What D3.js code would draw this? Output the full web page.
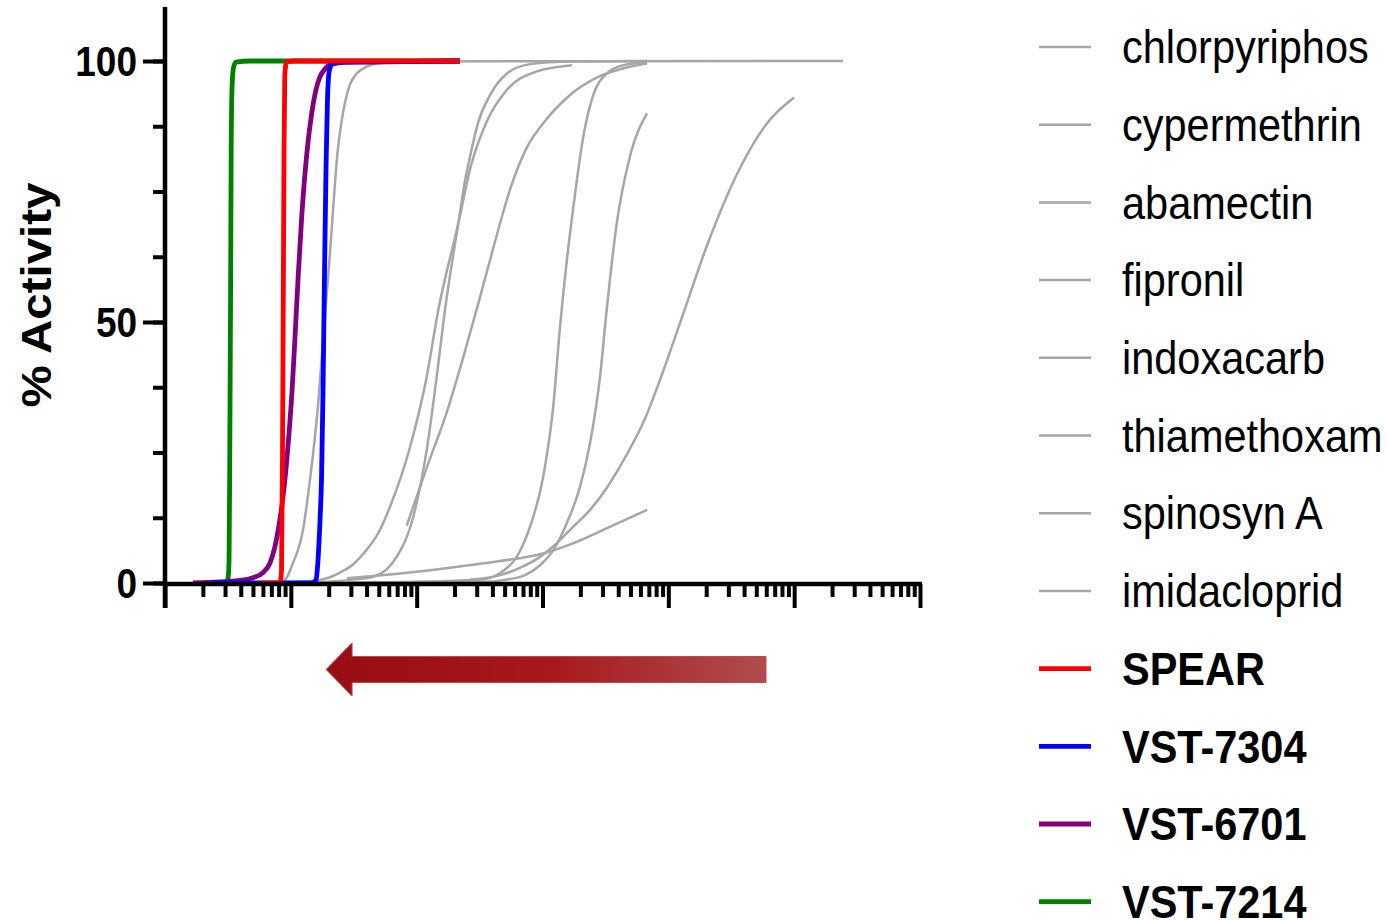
<!DOCTYPE html>
<html>
<head>
<meta charset="utf-8">
<script src="https://cdn.jsdelivr.net/npm/d3@7"></script>
<style>
  html, body { margin: 0; padding: 0; background: #fff; }
  svg { display: block; font-family: "Liberation Sans", Arial, Helvetica, sans-serif; }
</style>
</head>
<body>
<svg id="chart" width="1386" height="921"></svg>
<script>
// legend order (top to bottom)
const compoundNames = ["chlorpyriphos", "cypermethrin", "abamectin", "fipronil", "indoxacarb",
  "thiamethoxam", "spinosyn A", "imidacloprid", "SPEAR", "VST-7304", "VST-6701", "VST-7214"];

// fitted curves: [log10 concentration, % activity]
const chlorpyriphos = [[-2.762,0],[-2.166,0.1],[-2.062,0.3],[-1.983,3.8],[-1.903,10.2],[-1.848,19.7],[-1.784,34],[-1.736,49],[-1.689,63.2],[-1.657,74],[-1.631,82],[-1.596,88.5],[-1.570,92],[-1.530,95.5],[-1.477,97.6],[-1.397,98.9],[-1.318,99.5],[-1.132,99.9],[2.388,100]];
const cypermethrin = [[-1.927,0],[-1.530,0.6],[-1.345,1.2],[-1.159,5],[-1.027,12.7],[-0.920,25.5],[-0.841,39.5],[-0.775,52.3],[-0.669,68.9],[-0.616,77],[-0.564,83],[-0.513,88.1],[-0.409,93.8],[-0.282,97.6],[-0.099,99.4],[0.219,99.9],[0.831,100]];
const abamectin = [[-2.245,0],[-2.007,0.2],[-1.768,0.6],[-1.609,2],[-1.504,3.6],[-1.424,5.6],[-1.291,10.2],[-1.212,14.6],[-1.053,26],[-0.920,39.5],[-0.828,52.3],[-0.669,68.9],[-0.568,80],[-0.441,88.5],[-0.282,94.5],[-0.046,98],[0.235,99.2]];
const fipronil = [[-1.079,11],[-0.920,22.1],[-0.761,32.7],[-0.629,43.3],[-0.505,54],[-0.393,64],[-0.250,76],[-0.123,83.5],[0.020,88.5],[0.219,93.5],[0.431,96.8],[0.695,98.9],[0.831,99.5]];
const indoxacarb = [[-1.554,0],[-0.497,0.6],[-0.338,1.9],[-0.205,5],[-0.099,10.8],[0.006,20.4],[0.086,34],[0.139,49],[0.192,61.5],[0.245,72],[0.324,85.5],[0.404,93.5],[0.510,97.6],[0.642,99.2],[0.831,99.7]];
const thiamethoxam = [[-1.554,0],[-0.497,0.2],[-0.298,0.6],[-0.139,1.5],[-0.020,3.4],[0.086,6.3],[0.192,11.4],[0.298,18.4],[0.378,26.8],[0.457,39.5],[0.510,52.3],[0.590,68.9],[0.695,81.7],[0.831,90]];
const spinosynA = [[-1.554,0],[-0.815,0.2],[-0.576,0.6],[-0.338,1.5],[-0.179,2.9],[-0.020,5],[0.099,7.3],[0.245,10.8],[0.378,14],[0.513,18.3],[0.656,24],[0.815,31.5],[0.950,40],[1.117,51.5],[1.305,64.5],[1.570,79.5],[1.782,88],[1.999,93]];
const imidacloprid = [[-1.554,0.9],[-1.132,1.8],[-0.735,2.9],[-0.338,4.2],[-0.020,5.5],[0.242,7.6],[0.513,10.5],[0.831,14]];
const spear = [[-2.237,0],[-2.086,0],[-2.074,2.5],[-2.066,25.5],[-2.060,54.2],[-2.054,82.9],[-2.048,97.3],[-2.034,99.8],[-1.967,100],[-0.656,100]];
const vst7304 = [[-2.626,0],[-1.832,0],[-1.800,0.6],[-1.784,4.4],[-1.768,12.1],[-1.756,20],[-1.744,37],[-1.732,60],[-1.720,80],[-1.709,92.5],[-1.693,98.3],[-1.665,99.6],[-1.570,99.8],[-0.656,100]];
const vst6701 = [[-2.777,0],[-2.404,0.5],[-2.301,1],[-2.221,2],[-2.166,3.8],[-2.126,7],[-2.098,10.5],[-2.070,15],[-2.042,21],[-2.015,28.5],[-1.991,36.5],[-1.967,47],[-1.941,59],[-1.914,70],[-1.874,82],[-1.834,90],[-1.800,94.5],[-1.768,97],[-1.728,98.5],[-1.689,99.3],[-1.556,99.8],[-0.656,100]];
const vst7214 = [[-2.515,0],[-2.499,0.9],[-2.491,4.4],[-2.485,25.5],[-2.479,54.2],[-2.474,82.9],[-2.468,94.4],[-2.456,98.7],[-2.436,99.8],[-2.324,100],[-0.656,100]];

const yTickValues = [0, 50, 100];

const grayCurves = [chlorpyriphos, cypermethrin, abamectin, fipronil, indoxacarb, thiamethoxam, spinosynA, imidacloprid];
const colorCurves = [spear, vst7304, vst6701, vst7214];
const colorCurveColors = ["#ff0000", "#0000ff", "#800080", "#008000"];
const grayColor = "#a6a6a6";

const svg = d3.select("#chart");

const x = d3.scaleLog().domain([1e-3, 1e3]).range([165, 920]);
const y = d3.scaleLinear().domain([0, 100]).range([583, 61]);

const line = d3.line()
  .x(d => x(Math.pow(10, d[0])))
  .y(d => y(d[1]))
  .curve(d3.curveMonotoneX);

// gray reference compounds
svg.append("g")
  .selectAll("path")
  .data(grayCurves)
  .join("path")
  .attr("d", line)
  .attr("fill", "none")
  .attr("stroke", grayColor)
  .attr("stroke-width", 2.5);

// highlighted compounds, last legend entry drawn first
const order = [3, 2, 1, 0];
svg.append("g")
  .selectAll("path")
  .data(order)
  .join("path")
  .attr("d", i => line(colorCurves[i]))
  .attr("fill", "none")
  .attr("stroke", i => colorCurveColors[i])
  .attr("stroke-width", 4.8)
  .attr("stroke-linejoin", "round");

// x axis (log, no labels)
const allTicks = x.ticks();
const majorTicks = allTicks.filter(t => Math.abs(Math.log10(t) - Math.round(Math.log10(t))) < 1e-9);
const minorTicks = allTicks.filter(t => !majorTicks.includes(t));

const xMinor = svg.append("g")
  .attr("transform", "translate(0,584)")
  .call(d3.axisBottom(x).tickValues(minorTicks).tickSize(13).tickFormat(""));
const xMajor = svg.append("g")
  .attr("transform", "translate(0,584)")
  .call(d3.axisBottom(x).tickValues(majorTicks).tickSize(24).tickFormat(""));
[xMinor, xMajor].forEach(g => {
  g.select(".domain").remove();
  g.selectAll("line").attr("stroke", "#000").attr("stroke-width", 4);
});
svg.append("line")
  .attr("x1", 163).attr("x2", 922)
  .attr("y1", 584).attr("y2", 584)
  .attr("stroke", "#000").attr("stroke-width", 4.5);

// y axis
const yMinor = svg.append("g")
  .attr("transform", "translate(165,0)")
  .call(d3.axisLeft(y).tickValues(d3.range(0, 101, 12.5)).tickSize(12).tickFormat(""));
const yMajor = svg.append("g")
  .attr("transform", "translate(165,0)")
  .call(d3.axisLeft(y).tickValues(yTickValues).tickSize(22).tickPadding(6).tickFormat(d3.format("d")));
[yMinor, yMajor].forEach(g => {
  g.select(".domain").remove();
  g.selectAll("line").attr("stroke", "#000").attr("stroke-width", 4);
});
yMajor.selectAll("text")
  .attr("font-size", 37)
  .attr("font-weight", "bold")
  .attr("fill", "#000")
  .attr("font-family", "'Liberation Sans', Arial, sans-serif")
  .attr("dy", "0.34em")
  .attr("transform", "scale(1,1.16)");
svg.append("line")
  .attr("x1", 165).attr("x2", 165)
  .attr("y1", 7).attr("y2", 608)
  .attr("stroke", "#000").attr("stroke-width", 4.5);

svg.append("text")
  .attr("transform", "translate(51,295) rotate(-90) scale(1.13,1)")
  .attr("text-anchor", "middle")
  .attr("font-size", 42)
  .attr("font-weight", "bold")
  .text("% Activity");

// arrow under the axis
const defs = svg.append("defs");
const grad = defs.append("linearGradient").attr("id", "arrowGrad")
  .attr("x1", "0%").attr("x2", "100%").attr("y1", "0%").attr("y2", "0%");
grad.append("stop").attr("offset", "0%").attr("stop-color", "#970d12");
grad.append("stop").attr("offset", "50%").attr("stop-color", "#a6181c");
grad.append("stop").attr("offset", "100%").attr("stop-color", "#b04c4d");

const arrowTip = x(Math.pow(10, -1.72));
const arrowTail = x(Math.pow(10, 1.776));
const arrowY = 669.5, shaftHalf = 13, headHalf = 26.5, headLen = 26;
svg.append("path")
  .attr("d", `M${arrowTip},${arrowY} L${arrowTip + headLen},${arrowY - headHalf} L${arrowTip + headLen},${arrowY - shaftHalf}
              L${arrowTail},${arrowY - shaftHalf} L${arrowTail},${arrowY + shaftHalf} L${arrowTip + headLen},${arrowY + shaftHalf}
              L${arrowTip + headLen},${arrowY + headHalf} Z`)
  .attr("fill", "url(#arrowGrad)")
  .attr("stroke", "#c0474b")
  .attr("stroke-width", 1);

// legend
const legendColors = compoundNames.map((n, i) => i < 8 ? grayColor : colorCurveColors[i - 8]);
const legend = svg.append("g")
  .selectAll("g")
  .data(compoundNames)
  .join("g")
  .attr("transform", (d, i) => `translate(0,${47 + i * 77.7})`);
legend.append("line")
  .attr("x1", 1039).attr("x2", 1091)
  .attr("stroke", (d, i) => legendColors[i])
  .attr("stroke-width", (d, i) => i < 8 ? 2.5 : 4.8);
legend.append("text")
  .attr("transform", "translate(1122,0) scale(1,1.12)")
  .attr("dy", "0.35em")
  .attr("font-size", 41.5)
  .attr("font-weight", (d, i) => i < 8 ? "normal" : "bold")
  .attr("fill", "#000")
  .text(d => d);
</script>
</body>
</html>
